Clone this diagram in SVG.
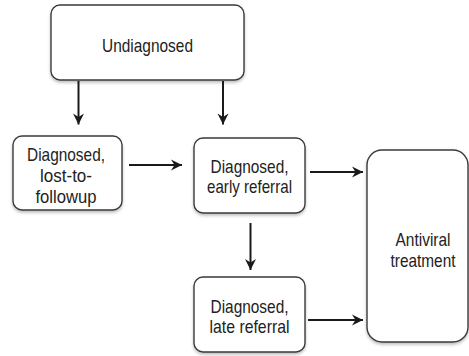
<svg xmlns="http://www.w3.org/2000/svg" width="469" height="356" viewBox="0 0 469 356">
<defs>
<filter id="sh" x="-10%" y="-10%" width="120%" height="130%">
<feDropShadow dx="0" dy="2" stdDeviation="1.5" flood-color="#000" flood-opacity="0.25"/>
</filter>
<marker id="ah" markerWidth="13" markerHeight="13" viewBox="0 0 13 13" refX="12" refY="6.5" orient="auto" markerUnits="userSpaceOnUse">
<path d="M1,1 L12,6.5 L1,12 L4.5,6.5 Z" fill="#1a1a1a"/>
</marker>
</defs>
<style>
.box{fill:#fff;stroke:#3a3a3a;stroke-width:1.4;filter:url(#sh)}
.t{font-family:"Liberation Sans",Arial,sans-serif;font-size:19px;fill:#222;text-anchor:middle}
.c{stroke:#1a1a1a;stroke-width:2;fill:none;marker-end:url(#ah)}
</style>
<rect width="469" height="356" fill="#fff"/>
<g id="undiagnosed">
<rect class="box" x="51" y="5" width="193" height="75" rx="9"/>
<text class="t" x="147.5" y="51.5" textLength="91" lengthAdjust="spacingAndGlyphs">Undiagnosed</text>
</g>
<g id="lost">
<rect class="box" x="13" y="136" width="109" height="74" rx="9"/>
<text class="t" x="66" y="161" textLength="78" lengthAdjust="spacingAndGlyphs">Diagnosed,</text>
<text class="t" x="66" y="182" textLength="52" lengthAdjust="spacingAndGlyphs">lost-to-</text>
<text class="t" x="66" y="203" textLength="61" lengthAdjust="spacingAndGlyphs">followup</text>
</g>
<g id="early">
<rect class="box" x="194" y="138" width="111" height="75" rx="9"/>
<text class="t" x="249.5" y="172.5" textLength="78" lengthAdjust="spacingAndGlyphs">Diagnosed,</text>
<text class="t" x="249.5" y="192.5" textLength="85" lengthAdjust="spacingAndGlyphs">early referral</text>
</g>
<g id="late">
<rect class="box" x="194" y="277" width="111" height="75" rx="9"/>
<text class="t" x="249.5" y="312.5" textLength="78" lengthAdjust="spacingAndGlyphs">Diagnosed,</text>
<text class="t" x="249.5" y="333" textLength="80" lengthAdjust="spacingAndGlyphs">late referral</text>
</g>
<g id="antiviral">
<rect class="box" x="367" y="150" width="101" height="192" rx="15"/>
<text class="t" x="423" y="246" textLength="55" lengthAdjust="spacingAndGlyphs">Antiviral</text>
<text class="t" x="423" y="266.5" textLength="65" lengthAdjust="spacingAndGlyphs">treatment</text>
</g>
<g id="connectors">
<line class="c" x1="78.5" y1="81" x2="78.5" y2="124.5"/>
<line class="c" x1="223" y1="81" x2="223" y2="124.5"/>
<line class="c" x1="129" y1="165" x2="182" y2="165"/>
<line class="c" x1="310" y1="172" x2="363" y2="172"/>
<line class="c" x1="250.5" y1="223" x2="250.5" y2="270"/>
<line class="c" x1="308" y1="320" x2="363" y2="320"/>
</g>
</svg>
